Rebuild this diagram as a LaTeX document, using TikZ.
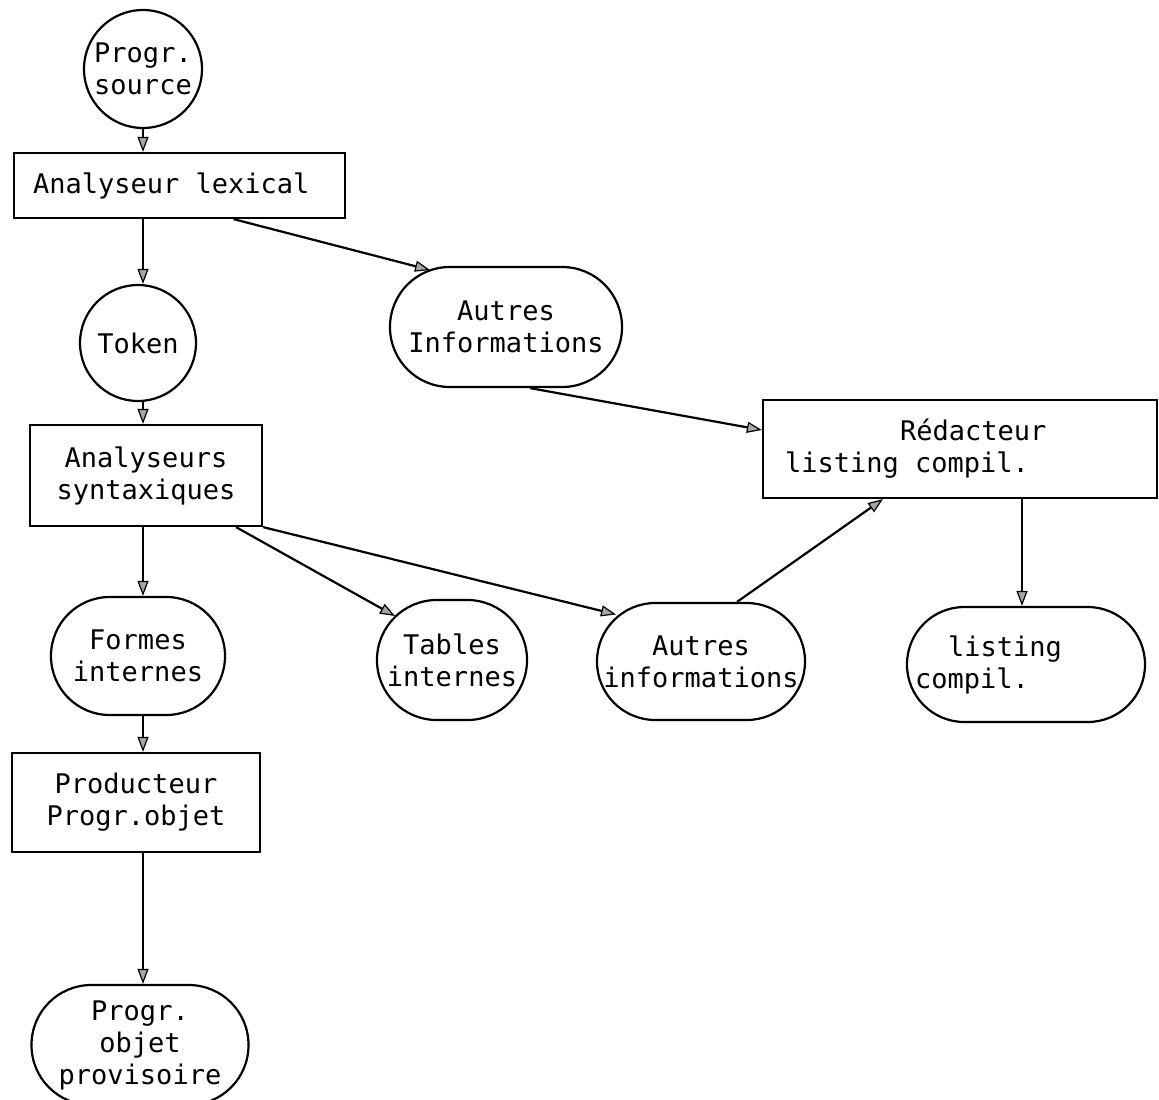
\documentclass[tikz,border=0pt]{standalone}
\usepackage{fontspec}
\newfontfamily\tw{DejaVu Sans Mono}
\usetikzlibrary{arrows.meta,calc}
\begin{document}
\begin{tikzpicture}[x=1pt,y=-1pt,line width=2.2pt,
  txt/.style={font=\tw\fontsize{27}{32}\selectfont,align=center,inner sep=0pt,draw},
  circ/.style={txt,circle,minimum size=#1},
  boxn/.style n args={2}{txt,rectangle,minimum width=#1,minimum height=#2},
  pill/.style n args={2}{txt,rectangle,minimum width=#1,minimum height=#2,rounded corners=#2/2-0.2pt},
  arr/.style={-{Triangle[length=15pt,width=11pt,fill=gray!70,line width=1.2pt]}}]
\useasboundingbox (0,0) rectangle (1159,1100);

\node[circ=118pt] (src) at (143,69) {Progr.\\source};
\node[boxn={331pt}{65pt}] (lex) at (179.5,185.5) {\makebox[293pt][l]{Analyseur lexical}};
\node[circ=116pt] (tok) at (138,343) {Token};
\node[pill={232pt}{120pt}] (ai1) at (506,327) {Autres\\Informations};
\node[boxn={232pt}{101pt}] (syn) at (146,475.5) {Analyseurs\\syntaxiques};
\node[boxn={394pt}{98pt}] (red) at (960,449) {\makebox[350pt][l]{\hspace*{115pt}Rédacteur}\\\makebox[350pt][l]{listing compil.}};
\node[pill={174pt}{118pt}] (fi) at (138,656) {Formes\\internes};
\node[pill={150pt}{120pt}] (tab) at (452,660) {Tables\\internes};
\node[pill={208pt}{117pt}] (ai2) at (701,661.5) {Autres\\informations};
\node[pill={238pt}{115pt}] (lc) at (1026,664.5) {\makebox[222pt][l]{\hspace*{33pt}listing}\\\makebox[222pt][l]{compil.}};
\node[boxn={248pt}{99pt}] (prod) at (136,802.5) {Producteur\\Progr.objet};
\node[pill={217pt}{120pt}] (pop) at (140,1045) {Progr.\\objet\\provisoire};

\draw[arr] (src.south) -- (src.south |- lex.north);
\draw[arr] ([xshift=-36.5pt]lex.south) -- ([xshift=-36.5pt]lex.south |- tok.north);
\draw[arr] ([xshift=5pt]tok.south) -- ([xshift=5pt]tok.south |- syn.north);
\draw[arr] ([xshift=-3pt]syn.south) -- ([xshift=-3pt]syn.south |- fi.north);
\draw[arr] ([xshift=5pt]fi.south) -- ([xshift=5pt]fi.south |- prod.north);
\draw[arr] ([xshift=7pt]prod.south) -- ([xshift=7pt]prod.south |- pop.north);

\draw[arr] ([xshift=54pt]lex.south) -- ($(ai1.center)+(-76,-57)$);
\draw[arr] ($(ai1.south)+(24,0)$) -- ([yshift=19pt]red.west);
\draw[arr] ([xshift=90pt]syn.south) -- ($(tab.center)+(-57,-44)$);
\draw[arr] (syn.south east) -- ($(ai2.center)+(-85,-47)$);
\draw[arr] ($(ai2.north)+(36,0)$) -- ([xshift=-77pt]red.south);
\draw[arr] ([xshift=62pt]red.south) -- ([xshift=62pt]red.south |- lc.north);
\end{tikzpicture}
\end{document}
